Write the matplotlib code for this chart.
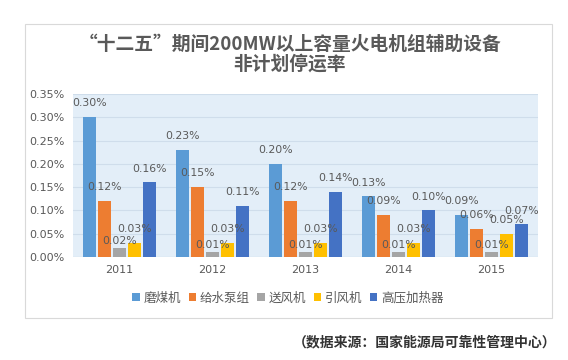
import numpy as np
import matplotlib.pyplot as plt
from matplotlib.patches import Rectangle
from matplotlib.ticker import FuncFormatter

plt.rcParams['font.family'] = ['Noto Sans CJK SC', 'DejaVu Sans']

years = ['2011', '2012', '2013', '2014', '2015']
series = ['磨煤机', '给水泵组', '送风机', '引风机', '高压加热器']
mill = [0.30, 0.23, 0.20, 0.13, 0.09]
feed_pump = [0.12, 0.15, 0.12, 0.09, 0.06]
fd_fan = [0.02, 0.01, 0.01, 0.01, 0.01]
id_fan = [0.03, 0.03, 0.03, 0.03, 0.05]
hp_heater = [0.16, 0.11, 0.14, 0.10, 0.07]
colors = ['#5B9BD5', '#ED7D31', '#A5A5A5', '#FFC000', '#4472C4']

data = [mill, feed_pump, fd_fan, id_fan, hp_heater]

fig = plt.figure(figsize=(5.68, 3.6), dpi=100)
fig.patches.append(Rectangle((25 / 568, 1 - 318 / 360), 527 / 568, 294 / 360,
                             transform=fig.transFigure, fill=False,
                             edgecolor='#D9D9D9', linewidth=0.8))

ax = fig.add_axes([73 / 568, 1 - 257 / 360, 465 / 568, 163 / 360])
ax.set_facecolor('#E3EEF8')

x = np.arange(len(years))
pitch = 0.16
width = 0.135
for i, (vals, name, c) in enumerate(zip(data, series, colors)):
    pos = x + (i - 2) * pitch
    bars = ax.bar(pos, vals, width, color=c, label=name, zorder=3)
    off = 5 if name == '送风机' else 10
    for b, v in zip(bars, vals):
        ax.annotate(f'{v:.2f}%', (b.get_x() + b.get_width() / 2, v),
                    xytext=(0, off), textcoords='offset points',
                    ha='center', va='center', fontsize=7.8,
                    color='#595959', family=['DejaVu Sans'], zorder=4)

ax.set_xlim(-0.5, 4.5)
ax.set_ylim(0, 0.35)
ax.set_yticks(np.arange(0, 0.351, 0.05))
ax.yaxis.set_major_formatter(FuncFormatter(lambda v, p: f'{v:.2f}%'))
ax.set_xticks(x)
ax.set_xticklabels(years)
ax.tick_params(length=0, labelsize=8, colors='#595959')
for lab in ax.get_yticklabels() + ax.get_xticklabels():
    lab.set_family(['DejaVu Sans'])
ax.tick_params(axis='x', pad=6)
ax.tick_params(axis='y', pad=6)
ax.grid(axis='y', color='#CFDDEB', linewidth=0.8, zorder=0)
for s in ax.spines.values():
    s.set_visible(False)
ax.axhline(0, color='#C9D6E3', linewidth=0.8, zorder=2)

fig.text(0.51, 1 - 44 / 360, '“十二五”期间200MW以上容量火电机组辅助设备',
         ha='center', va='center', fontsize=13.5, fontweight='bold', color='#595959')
fig.text(0.51, 1 - 64 / 360, '非计划停运率',
         ha='center', va='center', fontsize=13.5, fontweight='bold', color='#595959')

fig.legend(loc='center', bbox_to_anchor=(288 / 568, 1 - 298 / 360), ncol=5,
           frameon=False, fontsize=9, handlelength=0.6, handleheight=0.6,
           handletextpad=0.3, columnspacing=0.6, labelcolor='#595959')

fig.text(556 / 568, 1 - 342 / 360, '（数据来源：国家能源局可靠性管理中心）',
         ha='right', va='center', fontsize=10, fontweight='bold', color='#333333')

fig.savefig('out.png', dpi=100)
